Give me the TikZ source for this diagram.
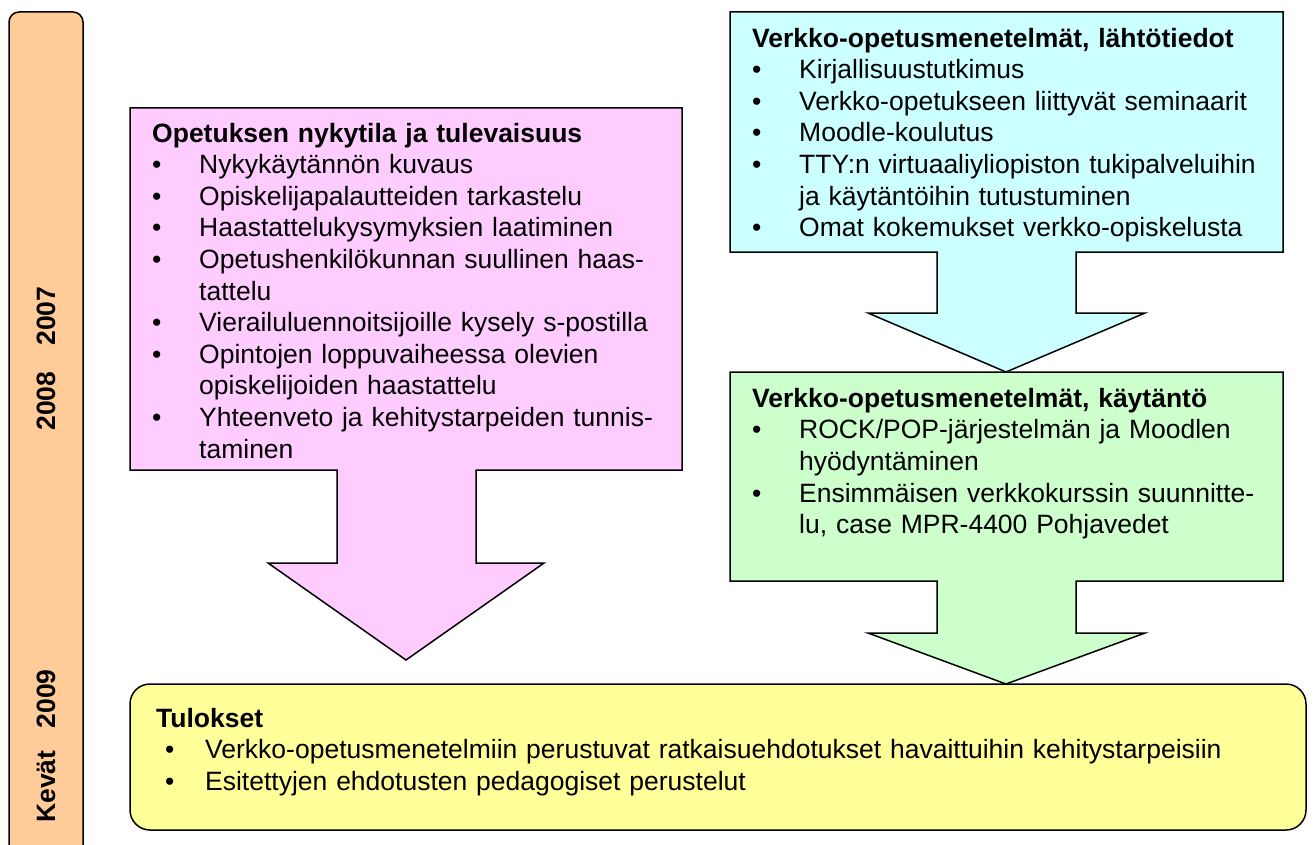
\documentclass[tikz,border=0pt]{standalone}
\usepackage{fontspec}
\setmainfont{Liberation Sans}
\definecolor{cpink}{HTML}{FFCCFF}
\definecolor{ccyan}{HTML}{CCFFFF}
\definecolor{cgreen}{HTML}{CCFFCC}
\definecolor{cyellow}{HTML}{FFFF99}
\definecolor{cpeach}{HTML}{FFCC99}
\newcommand\bit[1]{\par\hangindent=47pt\hangafter=1\noindent\makebox[47pt][l]{\textbullet}#1}
\newcommand\bitY[1]{\par\hangindent=49pt\hangafter=1\noindent\makebox[49pt][l]{\hspace{9pt}\textbullet}#1}
\newcommand\ttl[1]{\noindent\rule{0pt}{27pt}\textbf{#1}}
\tikzset{
  shp/.style={draw=black, line width=1.5pt, line join=miter},
  txt/.style={anchor=north west, inner sep=0pt, text width=#1,
    font=\fontsize{26.5}{31.6}\selectfont\raggedright},
  yr/.style={rotate=90, inner sep=0pt, font=\fontsize{26.5}{30}\selectfont\bfseries}
}
\begin{document}
\begin{tikzpicture}[x=1pt,y=-1pt]
\useasboundingbox (0,0) rectangle (1314,845);
\clip (0,0) rectangle (1314,845);
% left time bar
\draw[shp, fill=cpeach, rounded corners=10pt] (9,12) rectangle (83,870);
\node[yr] (y07) at (46,316) {2007};
\node[yr] (y08) at (46,401) {2008};
\node[yr] (y09) at (46,746) {Kevät\ \ \ 2009};
% pink callout
\draw[shp, fill=cpink] (130,108) -- (682,108) -- (682,470) -- (476,470) -- (476,563)
  -- (544,563) -- (406,660) -- (268,563) -- (337,563) -- (337,470) -- (130,470) -- cycle;
\node[txt=520pt] (pinktext) at (152,115) {\ttl{Opetuksen nykytila ja tulevaisuus}
\bit{Nykykäytännön kuvaus}
\bit{Opiskelijapalautteiden tarkastelu}
\bit{Haastattelukysymyksien laatiminen}
\bit{Opetushenkilökunnan suullinen haas-\newline tattelu}
\bit{Vierailuluennoitsijoille kysely s-postilla}
\bit{Opintojen loppuvaiheessa olevien\newline opiskelijoiden haastattelu}
\bit{Yhteenveto ja kehitystarpeiden tunnis-\newline taminen}\par};
% cyan callout
\draw[shp, fill=ccyan] (730,12) -- (1283,12) -- (1283,252) -- (1076,252) -- (1076,313)
  -- (1145,313) -- (1006,372) -- (868,313) -- (937,313) -- (937,252) -- (730,252) -- cycle;
\node[txt=525pt] (cyantext) at (752,20) {\ttl{Verkko-opetusmenetelmät, lähtötiedot}
\bit{Kirjallisuustutkimus}
\bit{Verkko-opetukseen liittyvät seminaarit}
\bit{Moodle-koulutus}
\bit{TTY:n virtuaaliyliopiston tukipalveluihin\newline ja käytäntöihin tutustuminen}
\bit{Omat kokemukset verkko-opiskelusta}\par};
% green callout
\draw[shp, fill=cgreen] (730,372) -- (1283,372) -- (1283,581) -- (1076,581) -- (1076,633)
  -- (1145,633) -- (1006,684) -- (868,633) -- (937,633) -- (937,581) -- (730,581) -- cycle;
\node[txt=525pt] (greentext) at (752,380) {\ttl{Verkko-opetusmenetelmät, käytäntö}
\bit{ROCK/POP-järjestelmän ja Moodlen\newline hyödyntäminen}
\bit{Ensimmäisen verkkokurssin suunnitte-\newline lu, case MPR-4400 Pohjavedet}\par};
% results box
\draw[shp, fill=cyellow, rounded corners=20pt] (130,684) rectangle (1306,830);
\node[txt=1140pt] (restext) at (156,700) {\ttl{Tulokset}
\bitY{Verkko-opetusmenetelmiin perustuvat ratkaisuehdotukset havaittuihin kehitystarpeisiin}
\bitY{Esitettyjen ehdotusten pedagogiset perustelut}\par};
\end{tikzpicture}
\end{document}
